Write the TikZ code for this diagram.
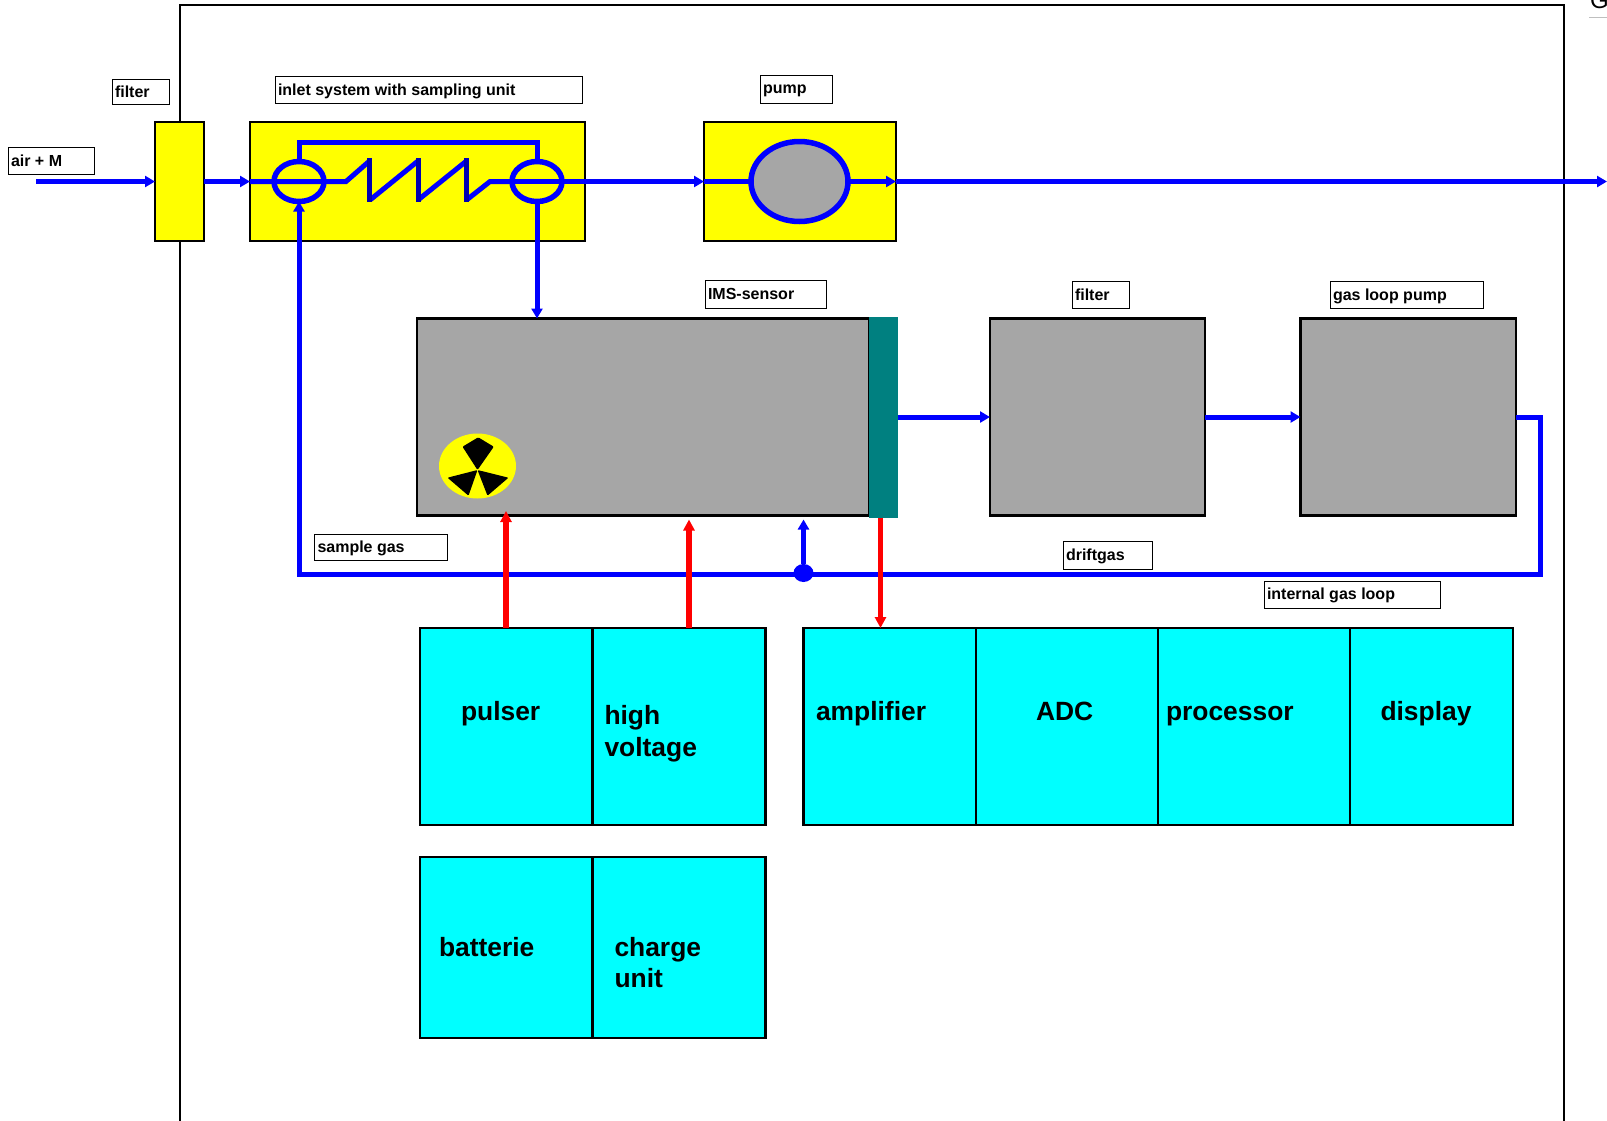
\documentclass[tikz,border=0pt]{standalone}
\usepackage{xcolor}
\usepackage{fontspec}
\setmainfont{Liberation Sans}
\usetikzlibrary{shapes.geometric, arrows.meta, positioning, calc}
\definecolor{boxgray}{HTML}{A6A6A6}
\definecolor{sensorteal}{HTML}{008080}
\definecolor{boxcyan}{HTML}{00FFFF}
\definecolor{boxyellow}{HTML}{FFFF00}
\definecolor{pureblue}{HTML}{0000FF}
\definecolor{purered}{HTML}{FF0000}

\begin{document}
\begin{tikzpicture}[x=1pt, y=-1pt, outer sep=0pt, >={Triangle[length=10pt,width=11pt]}]
        \tikzstyle{tag_style} = [rectangle, draw=black, line width=1pt, fill=white, anchor=north west, inner sep=3pt, align=flush left, text depth=1pt, font=\fontsize{16}{18}\bfseries\selectfont]
        \tikzstyle{yellow_style} = [rectangle, draw=black, line width=2.5pt, fill=boxyellow, anchor=north west, minimum height=119pt]
        \tikzstyle{gray_style} = [rectangle, draw=black, line width=2.5pt, fill=boxgray, anchor=north west, minimum height=197pt]
        \tikzstyle{cyan_style} = [rectangle, draw=black, line width=2.5pt, fill=boxcyan, anchor=north west, minimum height=197pt]
        \tikzstyle{big_text} = [anchor=base west, inner sep=0pt, font=\fontsize{26.4}{31}\bfseries\selectfont]
        \tikzstyle{big_lines} = [anchor=west, align=flush left, inner sep=0pt, font=\fontsize{26.4}{31}\bfseries\selectfont]
        \tikzstyle{valve_style} = [ellipse, draw=pureblue, line width=5.5pt, minimum width=50pt, minimum height=40pt, inner sep=0pt]
        \tikzstyle{arrow_gas} = [line width=5pt, draw=pureblue, ->]
        \tikzstyle{pipe_gas} = [line width=5pt, draw=pureblue]
        \tikzstyle{arrow_signal} = [line width=5.5pt, draw=purered, ->, >={Triangle[length=11pt,width=11pt]}]

        \useasboundingbox (0,0) rectangle (1607,1120);

        % Housing
        \draw [line width=2pt] (179.5,1125) -- (179.5,4.5) -- (1564,4.5) -- (1564,1125);
        \node (corner) [anchor=base west, inner sep=0pt, font=\fontsize{24}{24}\selectfont] at (1590,8) {G};
        \draw [line width=1pt, draw=black!25] (1589,17.5) -- (1607,17.5);

        % Upper row
        \node (filter_in) [yellow_style, minimum width=49pt] at (155,122) {};
        \node (inlet) [yellow_style, minimum width=335pt] at (250,122) {};
        \node (pump) [yellow_style, minimum width=192pt] at (704,122) {};
        \node (pump_body) [ellipse, draw=pureblue, line width=5.5pt, fill=boxgray, minimum width=97pt, minimum height=80pt] at (799.5,181.5) {};
        \node (valve_in) [valve_style] at (299,181.5) {};
        \node (valve_out) [valve_style] at (537,181.5) {};

        % Sensor row
        \node (sensor) [gray_style, minimum width=452pt] at (417,318.5) {};
        \node (grid) [rectangle, fill=sensorteal, anchor=north west, minimum width=29pt, minimum height=201pt] at (869,316.5) {};
        \node (filter_loop) [gray_style, minimum width=215pt] at (990,318.5) {};
        \node (gas_pump) [gray_style, minimum width=215.5pt] at (1300.5,318.5) {};

        % Radiation source
        \node (source) [ellipse, fill=boxyellow, minimum width=77pt, minimum height=65pt, inner sep=0pt] at (477.5,466) {};
        \coordinate (hub) at (477.5,470);
        \fill [rounded corners=1pt] (hub) -- ++(-15,-23.3) -- ++(15.7,-9.4) -- ++(15.6,9.4) -- cycle;
        \fill [rounded corners=1pt] (hub) -- ++(-30,7.7) -- ++(21,18) -- cycle;
        \fill [rounded corners=1pt] (hub) -- ++(31,7.7) -- ++(-21,18) -- cycle;

        % Electronics
        \node (pulser) [cyan_style, minimum width=172.5pt] at (420,628) {};
        \node (voltage) [cyan_style, right=0pt of pulser, minimum width=173pt] {};
        \node (amplifier) [cyan_style, minimum width=172.5pt] at (803.5,628) {};
        \node (adc) [cyan_style, right=0pt of amplifier, minimum width=182pt] {};
        \node (processor) [cyan_style, right=0pt of adc, minimum width=192pt] {};
        \node (display) [cyan_style, right=0pt of processor, minimum width=163pt] {};
        \node (battery) [cyan_style, minimum width=172.5pt, minimum height=181pt] at (420,857) {};
        \node (charger) [cyan_style, right=0pt of battery, minimum width=173pt, minimum height=181pt] {};

        % Text in the electronics boxes
        \node (pulser_text) [big_text] at (461,720.5) {pulser};
        \node (voltage_text) [big_lines] at (604.5,733.5) {high\\[1.5pt]voltage};
        \node (amplifier_text) [big_text] at (816,720.5) {amplifier};
        \node (adc_text) [big_text] at (1036,720.5) {ADC};
        \node (processor_text) [big_text] at (1166,720.5) {processor};
        \node (display_text) [big_text] at (1380.5,720.5) {display};
        \node (battery_text) [big_text] at (439,956) {batterie};
        \node (charger_text) [big_lines] at (614.5,963) {charge\\unit};

        % Gas path, upper row
        \coordinate (air_start) at (36,181.5);
        \coordinate (gas_out) at (1607,181.5);
        \draw [arrow_gas] (air_start) -- (filter_in.west);
        \draw [arrow_gas] (filter_in.east) -- (inlet.west);
        \draw [pipe_gas] (inlet.west) -- (346,181.5) -- (369.5,161) (370,200) -- (418,161) (418,200) -- (466.5,161) (466.5,200) -- (490,181.5) -- (valve_out.west);
        \draw [line width=5pt, draw=pureblue!70!black] (369.5,158) -- (369.5,202) (418,158) -- (418,202) (466.5,158) -- (466.5,202);
        \draw [pipe_gas] (valve_in.north) -- (299,142.5) -| (valve_out.north);
        \draw [arrow_gas] (valve_out.west) -- (pump.west);
        \draw [pipe_gas] (pump.west) -- (pump_body.west);
        \draw [arrow_gas] (pump_body.east) -- (pump.east);
        \draw [arrow_gas] (pump.east) -- (gas_out);
        \draw [arrow_gas] (valve_out.south) -- (sensor.north -| valve_out);

        % Gas path, sensor row
        \coordinate (loop_corner) at (1540,574);
        \draw [arrow_gas] (grid.east) -- (filter_loop.west);
        \draw [arrow_gas] (filter_loop.east) -- (gas_pump.west);
        \draw [arrow_gas] (gas_pump.east) -| (loop_corner) -| (valve_in.south);
        \node (tee) [ellipse, fill=pureblue, minimum width=20pt, minimum height=18pt, inner sep=0pt] at (803.5,573) {};
        \coordinate (drift_in) at (803.5,519.5);
        \draw [arrow_gas] (tee) -- (drift_in);

        % Signals
        \coordinate (pulser_top) at (506,628);
        \coordinate (pulser_tip) at (506,511);
        \coordinate (voltage_top) at (689,628);
        \coordinate (voltage_tip) at (689,519.5);
        \coordinate (grid_low) at (880.5,517.5);
        \coordinate (amplifier_top) at (880.5,628);
        \draw [arrow_signal] (pulser_top) -- (pulser_tip);
        \draw [arrow_signal] (voltage_top) -- (voltage_tip);
        \draw [arrow_signal] (grid_low) -- (amplifier_top);

        % Labels
        \node (air_tag) [tag_style, text width=80pt, minimum height=26.5pt] at (8,147.5) {air + M};
        \node (filter_tag) [tag_style, text width=51pt, minimum height=25.5pt] at (112,79) {filter};
        \node (inlet_tag) [tag_style, text width=301pt, minimum height=27.5pt] at (275,76) {inlet system with sampling unit};
        \node (pump_tag) [tag_style, text width=66pt, minimum height=28.5pt] at (760,75) {pump};
        \node (sensor_tag) [tag_style, text width=115pt, minimum height=28.5pt] at (705,280) {IMS-sensor};
        \node (loop_filter_tag) [tag_style, text width=51.5pt, minimum height=27.5pt] at (1072,281) {filter};
        \node (gas_pump_tag) [tag_style, text width=147pt, minimum height=27.5pt] at (1330,281) {gas loop pump};
        \node (sample_tag) [tag_style, text width=126.5pt, minimum height=26.5pt] at (314.5,534) {sample gas};
        \node (drift_tag) [tag_style, text width=83pt, minimum height=28pt] at (1063,541) {driftgas};
        \node (internal_tag) [tag_style, text width=170pt, minimum height=27pt] at (1264,581) {internal gas loop};
\end{tikzpicture}
\end{document}
